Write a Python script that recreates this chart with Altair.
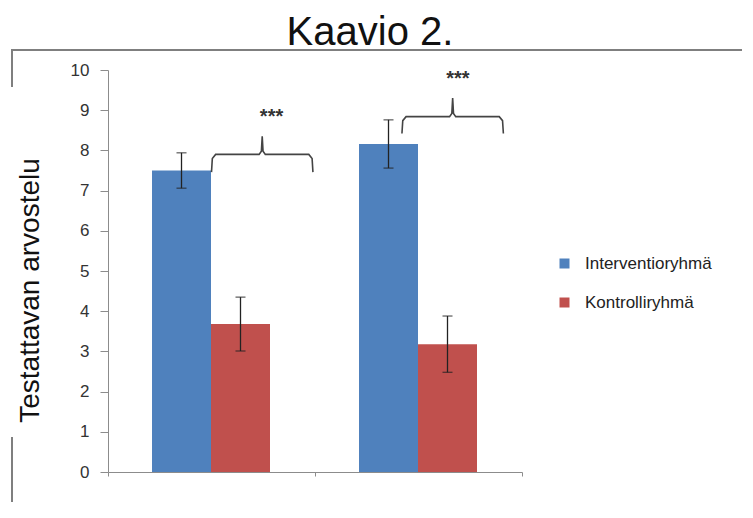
import altair as alt
import pandas as pd

# ---- data ----
title_text = "Kaavio 2."
y_title = "Testattavan arvostelu"
series = ["Interventioryhmä", "Kontrolliryhmä"]
colors = ["#4F81BD", "#C0504D"]
group_index = [0, 1]
interv_mean = [7.50, 8.16]
interv_err = [0.44, 0.60]
kontr_mean = [3.68, 3.18]
kontr_err = [0.67, 0.70]
y_ticks = list(range(0, 11))
x_ticks = [0, 1, 2]

brace_x0 = [0.50, 1.42]
brace_x1 = [0.99, 1.91]
brace_end = [7.46, 8.42]
brace_bar = [7.90, 8.84]
brace_peak = [8.35, 9.30]
brace_label = ["***", "***"]
label_x = [0.79, 1.69]
label_y = [8.82, 9.78]

FONT = "Liberation Sans"
BAR_START = 0.2126
BAR_W = 0.285

# ---- build tables ----
rows = []
for gi, g in enumerate(group_index):
    for si, (s, means, errs) in enumerate(
        [(series[0], interv_mean, interv_err), (series[1], kontr_mean, kontr_err)]
    ):
        x = g + BAR_START + si * BAR_W
        m, e = means[gi], errs[gi]
        rows.append(dict(series=s, x=x, x2=x + BAR_W, xc=x + BAR_W / 2,
                         mean=m, lo=m - e, hi=m + e))
bars_df = pd.DataFrame(rows)

brace_rows = []
for b in range(len(brace_x0)):
    x0, x1 = brace_x0[b], brace_x1[b]
    xc = (x0 + x1) / 2
    e, h, p = brace_end[b], brace_bar[b], brace_peak[b]
    pts = [(x0, e), (x0 + 0.004, h - 0.1), (x0 + 0.02, h),
           (xc - 0.015, h), (xc - 0.004, h + 0.08), (xc, p),
           (xc + 0.004, h + 0.08), (xc + 0.015, h),
           (x1 - 0.02, h), (x1 - 0.004, h - 0.1), (x1, e)]
    for k, (px, py) in enumerate(pts):
        brace_rows.append(dict(brace=b, order=k, x=px, y=py))
brace_df = pd.DataFrame(brace_rows)
label_df = pd.DataFrame(dict(x=label_x, y=label_y, t=brace_label))

xscale = alt.Scale(domain=[0, 2], nice=False, zero=False)
yscale = alt.Scale(domain=[0, 10], nice=False)

xaxis = alt.Axis(values=x_ticks, labels=False, title="", grid=False,
                 domainColor="#8c8c8c", tickColor="#8c8c8c", tickSize=4,
                 domainWidth=1, tickWidth=1)
yaxis = alt.Axis(values=y_ticks, grid=False, title=y_title,
                 domainColor="#8c8c8c", tickColor="#8c8c8c", tickSize=8,
                 domainWidth=1, tickWidth=1,
                 labelFont=FONT, labelFontSize=17, labelColor="#333333",
                 labelPadding=11,
                 titleFont=FONT, titleFontSize=28, titleFontWeight="normal",
                 titleColor="#111111", titleX=-78, titleY=220,
                 titleBaseline="middle", titleAngle=270)

bars = alt.Chart(bars_df).mark_rect().encode(
    x=alt.X("x:Q", scale=xscale, axis=xaxis),
    x2="x2:Q",
    y=alt.Y("mean:Q", scale=yscale, axis=yaxis),
    y2=alt.datum(0),
    color=alt.Color("series:N",
                    scale=alt.Scale(domain=series, range=colors),
                    legend=alt.Legend(title=None, orient="none",
                                      legendX=448, legendY=185,
                                      symbolType="square", symbolSize=100,
                                      symbolStrokeWidth=0, symbolOpacity=1,
                                      labelFont=FONT, labelFontSize=17,
                                      labelColor="#222222", labelOffset=12,
                                      rowPadding=21, padding=0)),
)

err_rule = alt.Chart(bars_df).mark_rule(color="#222222", strokeWidth=1.3).encode(
    x="xc:Q", y="lo:Q", y2="hi:Q")
cap_hi = alt.Chart(bars_df).mark_tick(orient="horizontal", size=10, thickness=1.3,
                                      color="#222222").encode(x="xc:Q", y="hi:Q")
cap_lo = alt.Chart(bars_df).mark_tick(orient="horizontal", size=10, thickness=1.3,
                                      color="#222222").encode(x="xc:Q", y="lo:Q")

brace_line = alt.Chart(brace_df).mark_line(color="#444444", strokeWidth=1.6).encode(
    x="x:Q", y="y:Q", detail="brace:N", order="order:Q")
brace_text = alt.Chart(label_df).mark_text(font=FONT, fontSize=20, fontWeight="bold",
                                           color="#333333").encode(
    x="x:Q", y="y:Q", text="t:N")

one = pd.DataFrame({"t": [title_text]})
title = alt.Chart(one).mark_text(font=FONT, fontSize=40, align="center",
                                 baseline="alphabetic", color="#111111").encode(
    text="t:N", x=alt.value(262), y=alt.value(-25.5))

frame_top = alt.Chart(one).mark_rule(color="#7f7f7f", strokeWidth=2).encode(
    x=alt.value(-96), x2=alt.value(660), y=alt.value(-20))
frame_left1 = alt.Chart(one).mark_rule(color="#7f7f7f", strokeWidth=2).encode(
    x=alt.value(-96), y=alt.value(-21), y2=alt.value(17))
frame_left2 = alt.Chart(one).mark_rule(color="#7f7f7f", strokeWidth=2).encode(
    x=alt.value(-96), y=alt.value(367), y2=alt.value(440))

chart = alt.layer(
    frame_top, frame_left1, frame_left2, title,
    bars, err_rule, cap_hi, cap_lo, brace_line, brace_text
).properties(
    width=414, height=402,
    padding={"left": 100, "top": 62, "right": 220, "bottom": 30},
    autosize=alt.AutoSizeParams(type="none"),
).configure_view(strokeWidth=0)

chart.save("out.html", embed_options={"renderer": "svg", "actions": False})
